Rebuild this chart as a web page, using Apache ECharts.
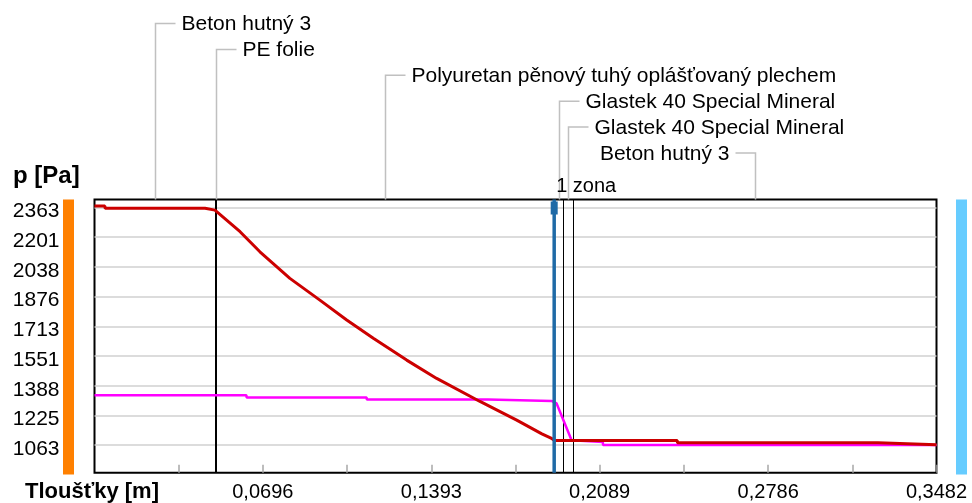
<!DOCTYPE html>
<html>
<head>
<meta charset="utf-8">
<script src="https://cdn.jsdelivr.net/npm/echarts@6/dist/echarts.min.js"></script>
<style>
  html, body { margin: 0; padding: 0; background: #fff; }
  #chart { width: 972px; height: 503px; }
</style>
</head>
<body>
<div id="chart"></div>
<script>
// osa x - tloušťky [m], osa y - tlak [Pa]
var xTicks = [0.0348, 0.0696, 0.1045, 0.1393, 0.1741, 0.2089, 0.2437, 0.2786, 0.3134, 0.3482];
var xTickLabels = [0.0696, 0.1393, 0.2089, 0.2786, 0.3482];
var yTickLabels = [1063, 1225, 1388, 1551, 1713, 1876, 2038, 2201, 2363];
var Y_MIN = 912;
var Y_MAX = 2406;

// vrstvy konstrukce
var layerNames = [
  'Beton hutný 3',
  'PE folie',
  'Polyuretan pěnový tuhý oplášťovaný plechem',
  'Glastek 40 Special Mineral',
  'Glastek 40 Special Mineral',
  'Beton hutný 3'
];
var layerFrom = [0, 0.05, 0.0502, 0.1902, 0.1936, 0.1978];
var layerTo = [0.05, 0.0502, 0.1902, 0.1936, 0.1978, 0.3482];

// kondenzační zóna
var zoneX = [0.1901];
var zoneNames = ['1 zona'];

// nasycený tlak vodní páry (červená)
var pSat = [
  [0, 2370], [0.0043, 2370], [0.0044, 2358], [0.0457, 2358], [0.0458, 2348], [0.0498, 2348],
  [0.0602, 2230], [0.0684, 2120], [0.0808, 1975], [0.0932, 1856], [0.1043, 1747],
  [0.1153, 1647], [0.1291, 1528], [0.1415, 1428], [0.1594, 1302], [0.1746, 1200],
  [0.1850, 1125], [0.1890, 1100], [0.1902, 1088], [0.2410, 1088], [0.2411, 1076],
  [0.3240, 1076], [0.3241, 1066], [0.3482, 1066]
];

// částečný tlak vodní páry (fialová)
var pPart = [
  [0, 1336], [0.0628, 1336], [0.0629, 1324], [0.1125, 1324], [0.1126, 1313],
  [0.1627, 1313], [0.1628, 1305], [0.1890, 1305], [0.1911, 1291], [0.1973, 1090],
  [0.1978, 1081], [0.2102, 1081], [0.2103, 1064], [0.3482, 1064]
];

var FONT = '"Liberation Sans", Arial, sans-serif';

var chart = echarts.init(document.getElementById('chart'));

function renderCallout(params, api) {
  var i = params.dataIndex;
  var p = api.coord([api.value(0), Y_MAX]);
  var x = Math.round(p[0]) + 0.5;
  var top = p[1];
  var rowY = 23.5 + 25.9 * i;
  var toLeft = i === layerNames.length - 1;
  var hx = toLeft ? x - 20 : x + 20;
  return {
    type: 'group',
    children: [
      {
        type: 'polyline',
        shape: { points: [[x, top], [x, rowY], [hx, rowY]] },
        style: { stroke: '#c0c0c0', lineWidth: 1.5, fill: null }
      },
      {
        type: 'text',
        style: {
          text: layerNames[i],
          x: toLeft ? hx - 6 : hx + 6,
          y: rowY + 1,
          align: toLeft ? 'right' : 'left',
          verticalAlign: 'middle',
          font: '21px ' + FONT,
          fill: '#000'
        }
      }
    ]
  };
}

// svislá čára přes celou výšku grafu
function renderBound(params, api) {
  var top = api.coord([api.value(0), Y_MAX]);
  var bot = api.coord([api.value(0), Y_MIN]);
  var x = Math.round(top[0]) + 0.5;
  return {
    type: 'line',
    shape: { x1: x, y1: top[1], x2: x, y2: bot[1] },
    style: { stroke: '#000', lineWidth: 1 }
  };
}

function renderZone(params, api) {
  var i = params.dataIndex;
  var top = api.coord([api.value(0), Y_MAX]);
  var bot = api.coord([api.value(0), Y_MIN]);
  var x = top[0];
  return {
    type: 'group',
    children: [
      {
        type: 'line',
        shape: { x1: x, y1: top[1], x2: x, y2: bot[1] },
        style: { stroke: '#1f6aa6', lineWidth: 3.5 }
      },
      {
        type: 'rect',
        shape: { x: x - 3.5, y: top[1] + 2, width: 7, height: 13 },
        style: { fill: '#1f6aa6' }
      },
      {
        type: 'text',
        style: {
          text: zoneNames[i],
          x: x + 2,
          y: 186,
          align: 'left',
          verticalAlign: 'middle',
          font: '20px ' + FONT,
          fill: '#000'
        }
      }
    ]
  };
}

chart.setOption({
  animation: false,
  textStyle: { fontFamily: FONT },
  grid: {
    left: 94.5,
    top: 199.5,
    width: 842,
    height: 273.3,
    show: true,
    borderColor: '#000',
    borderWidth: 2
  },
  xAxis: {
    type: 'value',
    min: 0,
    max: 0.3482,
    axisLine: { show: false },
    axisTick: {
      show: true,
      inside: true,
      length: 8,
      customValues: xTicks,
      lineStyle: { color: '#a8a8a8', width: 1.5 }
    },
    axisLabel: {
      customValues: xTickLabels,
      formatter: function (v) { return v.toFixed(4).replace('.', ','); },
      margin: 10,
      fontSize: 20,
      color: '#000'
    },
    splitLine: { show: false }
  },
  yAxis: {
    type: 'value',
    min: Y_MIN,
    max: Y_MAX,
    axisLine: { show: false },
    axisTick: { show: false, customValues: yTickLabels },
    axisLabel: {
      customValues: yTickLabels,
      margin: 35,
      formatter: function (v) { return '{n|' + Math.round(v) + '}'; },
      rich: {
        n: { fontSize: 21, color: '#000', padding: [8, 0, 0, 0] }
      }
    },
    splitLine: { show: true, lineStyle: { color: '#d0d0d0', width: 1.5 } }
  },
  graphic: [
    { type: 'rect', shape: { x: 63, y: 199.5, width: 11, height: 275 }, style: { fill: '#ff8000' } },
    { type: 'rect', shape: { x: 956, y: 199.5, width: 11, height: 275 }, style: { fill: '#66ccff' } },
    {
      type: 'text', left: 13, top: 164,
      style: { text: 'p [Pa]', font: 'bold 24px ' + FONT, fill: '#000' }
    },
    {
      type: 'text', left: 25, top: 481,
      style: { text: 'Tloušťky [m]', font: 'bold 22px ' + FONT, fill: '#000' }
    }
  ],
  series: [
    {
      name: 'hranice',
      type: 'custom',
      renderItem: renderBound,
      data: layerTo.slice(0, -1).map(function (v) { return [v]; }),
      z: 1
    },
    {
      name: 'p',
      type: 'line',
      data: pPart,
      showSymbol: false,
      z: 2,
      lineStyle: { color: '#ff00ff', width: 2.5 },
      itemStyle: { color: '#ff00ff' }
    },
    {
      name: 'psat',
      type: 'line',
      data: pSat,
      showSymbol: false,
      z: 3,
      lineStyle: { color: '#cc0000', width: 3 },
      itemStyle: { color: '#cc0000' }
    },
    {
      name: 'zona',
      type: 'custom',
      renderItem: renderZone,
      data: zoneX.map(function (v) { return [v]; }),
      clip: false,
      z: 4
    },
    {
      name: 'vrstvy',
      type: 'custom',
      renderItem: renderCallout,
      data: layerNames.map(function (n, i) { return [(layerFrom[i] + layerTo[i]) / 2, i]; }),
      clip: false,
      z: 1
    }
  ]
});
</script>
</body>
</html>
